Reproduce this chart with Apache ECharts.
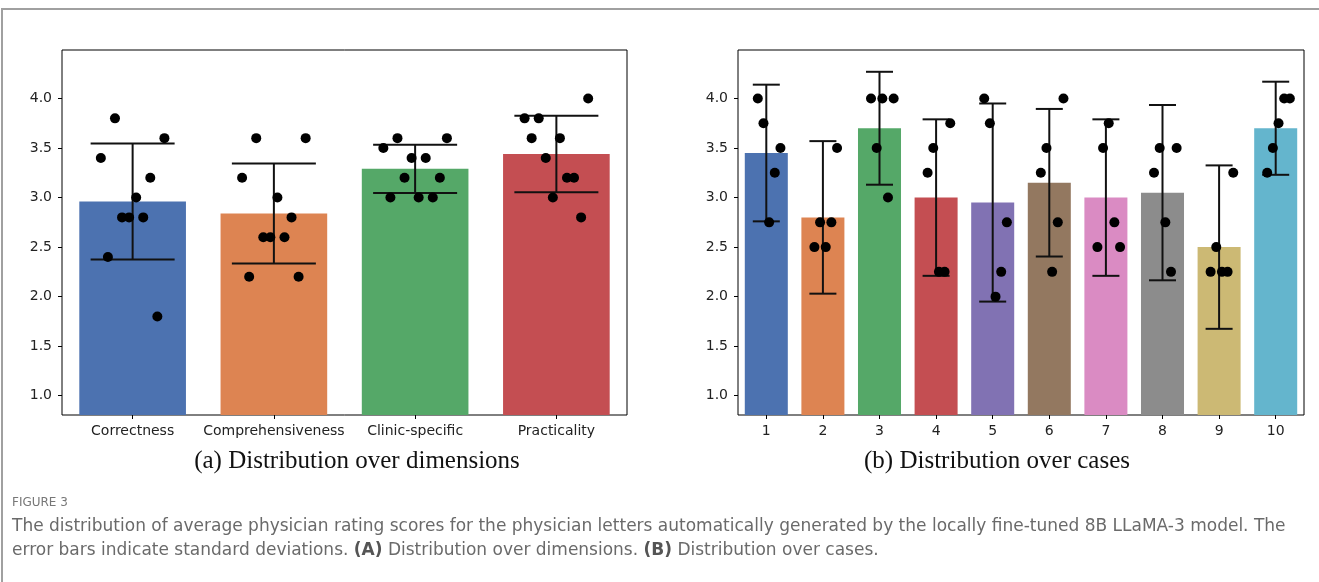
<!DOCTYPE html>
<html>
<head>
    <meta charset="utf-8">
    <title>ECharts</title>
    <script src="https://cdn.jsdelivr.net/npm/echarts@6/dist/echarts.min.js"></script>
    <style>
        html, body { margin: 0; padding: 0; background: #fff; }
    </style>
</head>
<body>
    <div id="main" style="width: 1319px;height:582px;"></div>
    <script type="text/javascript">
        // 数据
        var dimCategories = ['Correctness', 'Comprehensiveness', 'Clinic-specific', 'Practicality'];
        var dimMeans = [2.96, 2.84, 3.29, 3.44];
        var dimSd = [0.585, 0.505, 0.243, 0.385];
        var dimJitter = [-0.225, -0.175, -0.125, -0.075, -0.025, 0.025, 0.075, 0.125, 0.175, 0.225];
        var dimScores = [
            [3.4, 2.4, 3.8, 2.8, 2.8, 3.0, 2.8, 3.2, 1.8, 3.6],
            [3.2, 2.2, 3.6, 2.6, 2.6, 3.0, 2.6, 2.8, 2.2, 3.6],
            [3.5, 3.0, 3.6, 3.2, 3.4, 3.0, 3.4, 3.0, 3.2, 3.6],
            [3.8, 3.6, 3.8, 3.4, 3.0, 3.6, 3.2, 3.2, 2.8, 4.0]
        ];

        var caseCategories = ['1', '2', '3', '4', '5', '6', '7', '8', '9', '10'];
        var caseMeans = [3.45, 2.8, 3.7, 3.0, 2.95, 3.15, 3.0, 3.05, 2.5, 3.7];
        var caseSd = [0.69, 0.77, 0.57, 0.79, 1.0, 0.745, 0.79, 0.885, 0.825, 0.47];
        var caseJitter = [-0.15, -0.05, 0.05, 0.15, 0.25];
        var caseScores = [
            [4.0, 3.75, 2.75, 3.25, 3.5],
            [2.5, 2.75, 2.5, 2.75, 3.5],
            [4.0, 3.5, 4.0, 3.0, 4.0],
            [3.25, 3.5, 2.25, 2.25, 3.75],
            [4.0, 3.75, 2.0, 2.25, 2.75],
            [3.25, 3.5, 2.25, 2.75, 4.0],
            [2.5, 3.5, 3.75, 2.75, 2.5],
            [3.25, 3.5, 2.75, 2.25, 3.5],
            [2.25, 2.5, 2.25, 2.25, 3.25],
            [3.25, 3.5, 3.75, 4.0, 4.0]
        ];

        var yTicks = [1.0, 1.5, 2.0, 2.5, 3.0, 3.5, 4.0];
        var palette = ['#4C72B0', '#DD8452', '#55A868', '#C44E52', '#8172B3',
                       '#937860', '#DA8BC3', '#8C8C8C', '#CCB974', '#64B5CD'];

        var tickFont = 'DejaVu Sans';

        function makeYAxis(gi) {
            return {
                type: 'value', gridIndex: gi, min: 0.805, max: 4.49,
                splitLine: { show: false },
                axisLine: { show: false, onZero: false },
                axisTick: { show: true, length: 4, lineStyle: { color: '#000' }, customValues: yTicks },
                axisLabel: {
                    color: '#222', fontSize: 14, fontFamily: tickFont, margin: 10,
                    customValues: yTicks,
                    formatter: function (v) { return v.toFixed(1); }
                }
            };
        }

        function makeCatAxis(gi, cats) {
            return {
                type: 'category', gridIndex: gi, data: cats,
                axisLine: { show: false, onZero: false },
                axisTick: { show: true, alignWithLabel: true, length: 4, lineStyle: { color: '#000' } },
                axisLabel: { color: '#222', fontSize: 14, fontFamily: tickFont, margin: 9, interval: 0 }
            };
        }

        function makeValX(gi, n) {
            return { type: 'value', gridIndex: gi, min: -0.5, max: n - 0.5, show: false,
                     axisLine: { onZero: false } };
        }

        function scatterData(scores, jitter) {
            var out = [];
            for (var i = 0; i < scores.length; i++) {
                for (var j = 0; j < scores[i].length; j++) {
                    out.push([i + jitter[j], scores[i][j]]);
                }
            }
            return out;
        }

        function errData(means, sd) {
            return means.map(function (m, i) { return [i, m - sd[i], m + sd[i]]; });
        }

        function errSeries(xi, yi, data, capPx) {
            return {
                type: 'custom', xAxisIndex: xi, yAxisIndex: yi, data: data, z: 3,
                renderItem: function (params, api) {
                    var lo = api.coord([api.value(0), api.value(1)]);
                    var hi = api.coord([api.value(0), api.value(2)]);
                    var h = capPx / 2;
                    var st = { stroke: '#111', lineWidth: 2 };
                    return {
                        type: 'group',
                        children: [
                            { type: 'line', shape: { x1: lo[0], y1: lo[1], x2: hi[0], y2: hi[1] }, style: st },
                            { type: 'line', shape: { x1: lo[0] - h, y1: lo[1], x2: lo[0] + h, y2: lo[1] }, style: st },
                            { type: 'line', shape: { x1: hi[0] - h, y1: hi[1], x2: hi[0] + h, y2: hi[1] }, style: st }
                        ]
                    };
                }
            };
        }

        function barSeries(xi, yi, means, width) {
            return {
                type: 'bar', xAxisIndex: xi, yAxisIndex: yi, barWidth: width, clip: true,
                data: means.map(function (m, i) {
                    return { value: m, itemStyle: { color: palette[i] } };
                }),
                z: 2
            };
        }

        var myChart = echarts.init(document.getElementById('main'));

        var captionColor = '#6a6a6a';
        var captionFont = '17px "DejaVu Sans"';

        var option = {
            backgroundColor: '#fff',
            animation: false,
            grid: [
                { left: 62, top: 50, width: 565, height: 365, show: true, borderColor: '#000', borderWidth: 1 },
                { left: 738, top: 50, width: 566, height: 365, show: true, borderColor: '#000', borderWidth: 1 }
            ],
            xAxis: [
                makeCatAxis(0, dimCategories),
                makeValX(0, dimCategories.length),
                makeCatAxis(1, caseCategories),
                makeValX(1, caseCategories.length)
            ],
            yAxis: [makeYAxis(0), makeYAxis(1)],
            series: [
                barSeries(0, 0, dimMeans, '75.5%'),
                errSeries(1, 0, errData(dimMeans, dimSd), 84),
                {
                    type: 'scatter', xAxisIndex: 1, yAxisIndex: 0, z: 4,
                    symbolSize: 10, itemStyle: { color: '#000', opacity: 1 },
                    data: scatterData(dimScores, dimJitter)
                },
                barSeries(2, 1, caseMeans, '76%'),
                errSeries(3, 1, errData(caseMeans, caseSd), 27),
                {
                    type: 'scatter', xAxisIndex: 3, yAxisIndex: 1, z: 4,
                    symbolSize: 10, itemStyle: { color: '#000', opacity: 1 },
                    data: scatterData(caseScores, caseJitter)
                }
            ],
            graphic: [
                {
                    type: 'rect', silent: true, z: -1,
                    shape: { x: 2, y: 9, width: 1330, height: 600 },
                    style: { fill: 'none', stroke: '#a0a0a0', lineWidth: 2 }
                },
                {
                    type: 'text', x: 357, y: 461,
                    style: {
                        text: '(a) Distribution over dimensions', fill: '#111',
                        font: '25px "Liberation Serif"', textAlign: 'center', textVerticalAlign: 'middle'
                    }
                },
                {
                    type: 'text', x: 997, y: 461,
                    style: {
                        text: '(b) Distribution over cases', fill: '#111',
                        font: '25px "Liberation Serif"', textAlign: 'center', textVerticalAlign: 'middle'
                    }
                },
                {
                    type: 'text', x: 12, y: 503,
                    style: {
                        text: 'FIGURE 3', fill: '#777',
                        font: '12px "DejaVu Sans"', textVerticalAlign: 'middle'
                    }
                },
                {
                    type: 'text', x: 12, y: 527,
                    style: {
                        text: 'The distribution of average physician rating scores for the physician letters automatically generated by the locally fine-tuned 8B LLaMA-3 model. The',
                        fill: captionColor, font: captionFont, textVerticalAlign: 'middle'
                    }
                },
                {
                    type: 'text', x: 12, y: 551,
                    style: {
                        text: 'error bars indicate standard deviations. {b|(A)} Distribution over dimensions. {b|(B)} Distribution over cases.',
                        fill: captionColor, font: captionFont, textVerticalAlign: 'middle',
                        rich: { b: { fill: '#555', font: 'bold 17px "DejaVu Sans"' } }
                    }
                }
            ]
        };

        myChart.setOption(option);
    </script>
</body>
</html>
